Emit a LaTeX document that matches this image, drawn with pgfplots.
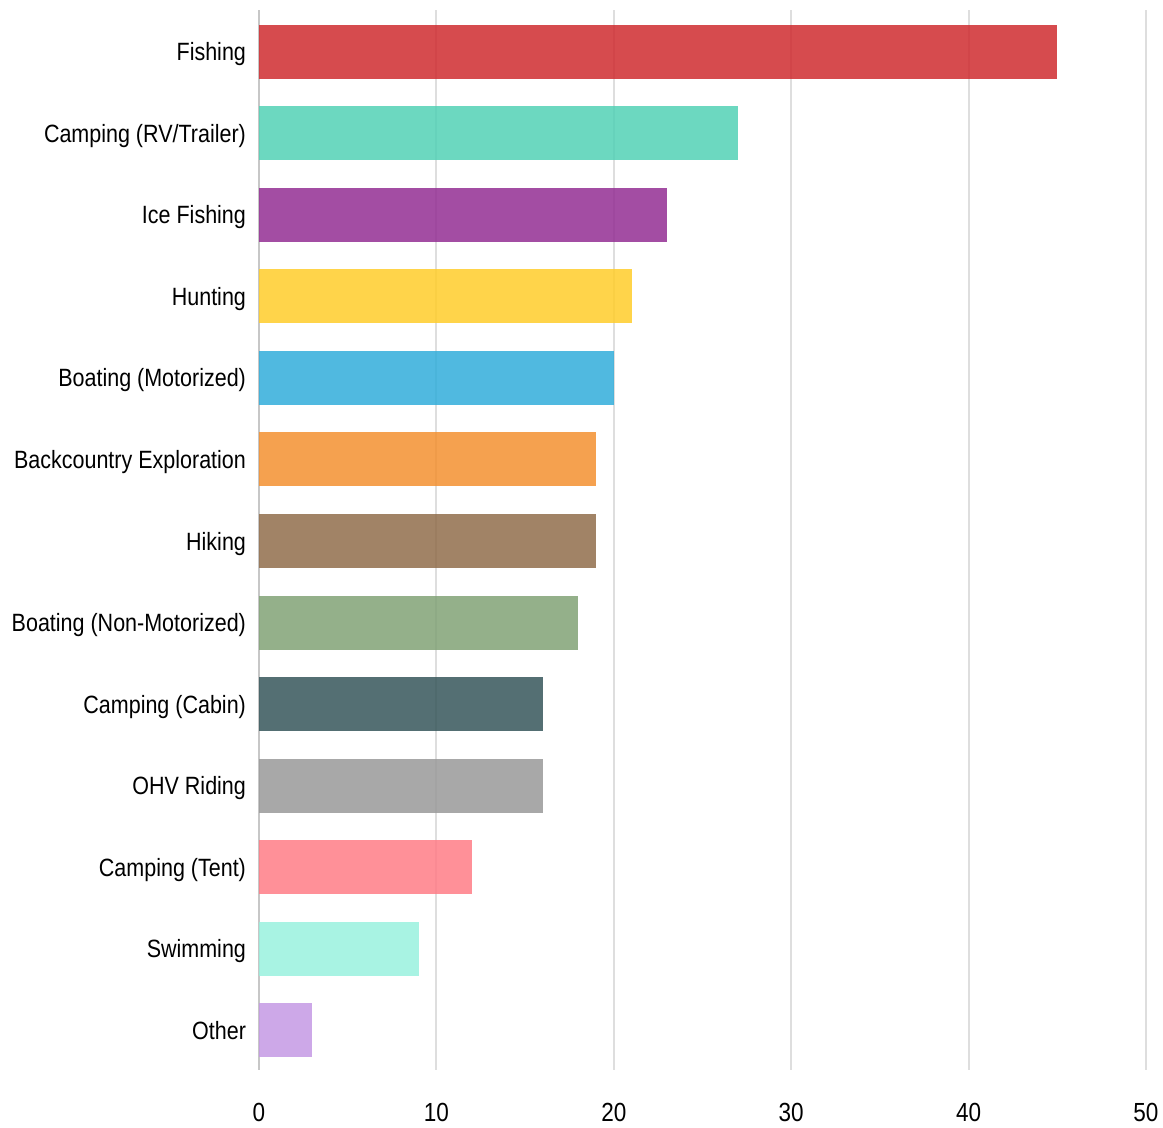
\documentclass[border=0pt]{standalone}
\usepackage{pgfplots}
\pgfplotsset{compat=1.18}
\usepackage{fontspec}
\setmainfont{Liberation Sans}[FakeStretch=0.86]
\definecolor{c1}{RGB}{207,43,47}
\definecolor{c2}{RGB}{82,209,181}
\definecolor{c3}{RGB}{147,46,147}
\definecolor{c4}{RGB}{255,205,42}
\definecolor{c5}{RGB}{49,173,218}
\definecolor{c6}{RGB}{243,144,48}
\definecolor{c7}{RGB}{144,109,75}
\definecolor{c8}{RGB}{129,162,118}
\definecolor{c9}{RGB}{54,86,90}
\definecolor{c10}{RGB}{153,153,153}
\definecolor{c11}{RGB}{255,124,134}
\definecolor{c12}{RGB}{153,241,222}
\definecolor{c13}{RGB}{196,153,228}
\begin{document}
\begin{tikzpicture}
\useasboundingbox (-129.5pt,-29pt) rectangle (452pt,535pt);
\begin{axis}[
  at={(0,0)}, anchor=south west,
  scale only axis, width=443.5pt, height=530pt,
  xmin=0, xmax=50, ymin=-0.49, ymax=12.515,
  xtick={0,10,20,30,40,50},
  ytick={0,1,2,3,4,5,6,7,8,9,10,11,12},
  yticklabels={Other,Swimming,Camping (Tent),OHV Riding,Camping (Cabin),Boating (Non-Motorized),Hiking,Backcountry Exploration,Boating (Motorized),Hunting,Ice Fishing,Camping (RV/Trailer),Fishing},
  axis lines*=left,
  x axis line style={draw=none},
  y axis line style={draw=black!22, line width=1.2pt},
  major tick length=0pt,
  xmajorgrids, grid style={draw=black!13, line width=1pt},
  /pgf/number format/assume math mode=true,
  xticklabel style={font=\fontsize{13.1}{15}\selectfont, text=black},
  yticklabel style={font=\fontsize{12.5}{15}\selectfont, text=black, anchor=base east, yshift=-4.5pt},
  xticklabel shift=13pt,
  yticklabel shift=3pt,
  xbar, bar width=27pt, bar shift=0pt,
  clip=false,
]
\addplot[draw=none, fill=c13, fill opacity=0.85] coordinates {(3,0)};
\addplot[draw=none, fill=c12, fill opacity=0.85] coordinates {(9,1)};
\addplot[draw=none, fill=c11, fill opacity=0.85] coordinates {(12,2)};
\addplot[draw=none, fill=c10, fill opacity=0.85] coordinates {(16,3)};
\addplot[draw=none, fill=c9, fill opacity=0.85] coordinates {(16,4)};
\addplot[draw=none, fill=c8, fill opacity=0.85] coordinates {(18,5)};
\addplot[draw=none, fill=c7, fill opacity=0.85] coordinates {(19,6)};
\addplot[draw=none, fill=c6, fill opacity=0.85] coordinates {(19,7)};
\addplot[draw=none, fill=c5, fill opacity=0.85] coordinates {(20,8)};
\addplot[draw=none, fill=c4, fill opacity=0.85] coordinates {(21,9)};
\addplot[draw=none, fill=c3, fill opacity=0.85] coordinates {(23,10)};
\addplot[draw=none, fill=c2, fill opacity=0.85] coordinates {(27,11)};
\addplot[draw=none, fill=c1, fill opacity=0.85] coordinates {(45,12)};
\end{axis}
\end{tikzpicture}
\end{document}
